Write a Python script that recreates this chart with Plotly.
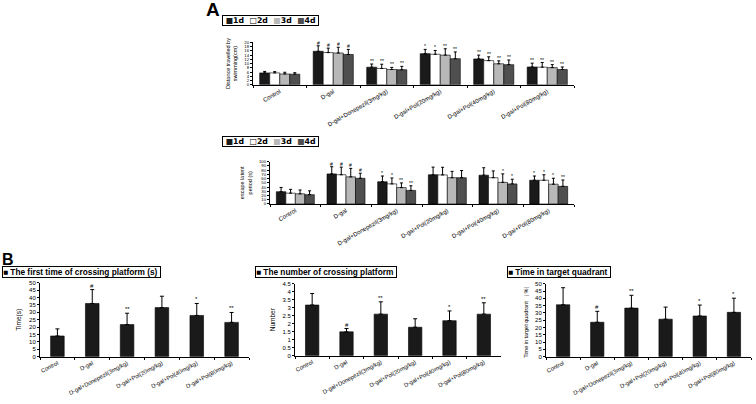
import plotly.graph_objects as go

categories = ["Control", "D-gal", "D-gal+Donepezil(3mg/kg)", "D-gal+Pol(20mg/kg)",
              "D-gal+Pol(40mg/kg)", "D-gal+Pol(80mg/kg)"]
days = ["1d", "2d", "3d", "4d"]

# Panel A (top): Distance travelled by swimming (cm)
dist_1d = [5.6, 15.8, 8.3, 14.7, 12.2, 8.4]
dist_2d = [5.6, 15.2, 7.7, 14.4, 11.4, 8.3]
dist_3d = [5.1, 15.0, 7.2, 14.0, 9.9, 8.1]
dist_4d = [5.0, 14.3, 7.1, 12.3, 9.5, 7.2]
dist_err_1d = [0.7, 2.6, 1.5, 2.0, 1.8, 1.8]
dist_err_2d = [0.6, 2.1, 2.0, 1.8, 1.8, 2.2]
dist_err_3d = [0.8, 2.7, 1.0, 3.0, 1.4, 1.4]
dist_err_4d = [0.7, 2.4, 1.6, 3.2, 2.2, 1.2]
dist_sig_1d = ["", "#", "**", "*", "**", "**"]
dist_sig_2d = ["", "#", "**", "*", "**", "**"]
dist_sig_3d = ["", "#", "**", "**", "**", "**"]
dist_sig_4d = ["", "#", "**", "**", "**", "**"]

# Panel A (bottom): escape latent period (s)
lat_1d = [29, 71, 52.5, 69, 68, 56]
lat_2d = [25.5, 69, 47.4, 68.6, 62, 56]
lat_3d = [24, 64, 38.7, 62, 51, 46.7]
lat_4d = [22, 60.6, 32, 62, 47.4, 41.6]
lat_err_1d = [10, 17, 13.5, 18, 17.5, 10]
lat_err_2d = [9, 18, 14, 18, 16, 13]
lat_err_3d = [9, 20, 11, 15, 20, 14]
lat_err_4d = [9, 12, 11, 17, 11, 15]
lat_sig_1d = ["", "#", "*", "", "", "*"]
lat_sig_2d = ["", "#", "*", "", "", "*"]
lat_sig_3d = ["", "#", "**", "", "*", "*"]
lat_sig_4d = ["", "#", "**", "", "*", "**"]

# Panel B
cross_time = [14, 36, 21.7, 33.2, 27.9, 23.2]
cross_time_err = [4.8, 9.4, 7.7, 7.7, 8.1, 6.7]
cross_time_sig = ["", "#", "**", "", "*", "**"]

cross_num = [3.17, 1.49, 2.6, 1.78, 2.19, 2.6]
cross_num_err = [0.72, 0.21, 0.77, 0.53, 0.61, 0.71]
cross_num_sig = ["", "#", "**", "", "*", "**"]

quad_time = [35.6, 23.6, 33.3, 25.7, 27.9, 30.4]
quad_time_err = [11.7, 7.5, 8.8, 8.3, 7.5, 9.7]
quad_time_sig = ["", "#", "**", "", "*", "*"]

W, H = 756, 404
FONT = "Liberation Sans, Arial, sans-serif"
day_colors = {"1d": "#1a1a1a", "2d": "#ffffff", "3d": "#b8b8b8", "4d": "#4f4f4f"}
BARGAP = 0.25


def px_dom_x(a, b):
    return [a / W, b / W]


def px_dom_y(top, bottom):
    return [1 - bottom / H, 1 - top / H]


# subplot geometry (pixel boxes: left, right, top, bottom)
boxes = {
    "A1": (253, 574, 40, 83),
    "A2": (270, 574, 161, 204),
    "B1": (40, 249, 284, 359),
    "B2": (295, 501, 285, 358),
    "B3": (546, 751, 285, 359),
}
axis_ids = {"A1": ("x", "y"), "A2": ("x2", "y2"), "B1": ("x3", "y3"),
            "B2": ("x4", "y4"), "B3": ("x5", "y5")}

fig = go.Figure()
annotations = []

dist = {"1d": (dist_1d, dist_err_1d, dist_sig_1d), "2d": (dist_2d, dist_err_2d, dist_sig_2d),
        "3d": (dist_3d, dist_err_3d, dist_sig_3d), "4d": (dist_4d, dist_err_4d, dist_sig_4d)}
lat = {"1d": (lat_1d, lat_err_1d, lat_sig_1d), "2d": (lat_2d, lat_err_2d, lat_sig_2d),
       "3d": (lat_3d, lat_err_3d, lat_sig_3d), "4d": (lat_4d, lat_err_4d, lat_sig_4d)}

for key, data in (("A1", dist), ("A2", lat)):
    xa, ya = axis_ids[key]
    x0, x1, _, _ = boxes[key]
    group_px = (x1 - x0) / len(categories)
    bar_px = group_px * (1 - BARGAP) / len(days)
    for j, d in enumerate(days):
        vals, errs, sigs = data[d]
        fig.add_trace(go.Bar(
            x=categories, y=vals, name=d, xaxis=xa, yaxis=ya, showlegend=False,
            marker=dict(color=day_colors[d], line=dict(color="#000000", width=0.6)),
            error_y=dict(type="data", array=errs, arrayminus=[0] * len(errs), symmetric=False,
                         color="#000000", thickness=1, width=1.5),
        ))
        for c, v, e, s in zip(categories, vals, errs, sigs):
            if s:
                annotations.append(dict(
                    x=c, y=v + e, xref=xa, yref=ya, text=s, showarrow=False,
                    yanchor="bottom", xshift=(j - 1.5) * bar_px, yshift=-2,
                    font=dict(size=5, color="#000000", family=FONT)))

for key, vals, errs, sigs in (("B1", cross_time, cross_time_err, cross_time_sig),
                              ("B2", cross_num, cross_num_err, cross_num_sig),
                              ("B3", quad_time, quad_time_err, quad_time_sig)):
    xa, ya = axis_ids[key]
    fig.add_trace(go.Bar(
        x=categories, y=vals, xaxis=xa, yaxis=ya, showlegend=False, width=0.39,
        marker=dict(color="#1a1a1a", line=dict(color="#000000", width=0.6)),
        error_y=dict(type="data", array=errs, arrayminus=[0] * len(errs), symmetric=False,
                     color="#000000", thickness=1, width=2),
    ))
    for c, v, e, s in zip(categories, vals, errs, sigs):
        if s:
            annotations.append(dict(
                x=c, y=v + e, xref=xa, yref=ya, text=s, showarrow=False,
                yanchor="bottom", yshift=-1,
                font=dict(size=6, color="#000000", family=FONT)))

layout = dict(
    width=W, height=H, margin=dict(l=0, r=0, t=0, b=0),
    paper_bgcolor="white", plot_bgcolor="white",
    barmode="group", bargap=BARGAP, bargroupgap=0,
    font=dict(family=FONT, color="#000000"),
    showlegend=False,
)

yconf = {
    "A1": dict(range=[0, 20], dtick=2, title="Distance travelled by<br>swimming(cm)", tfs=5.5, ts=4.3, cs=6, ang=-30),
    "A2": dict(range=[0, 100], dtick=10, title="escape latent<br>period (s)", tfs=5.5, ts=4.3, cs=6, ang=-30),
    "B1": dict(range=[0, 50], dtick=5, title="Time(s)", tfs=6.5, ts=6, cs=5.8, ang=-28),
    "B2": dict(range=[0, 4.5], dtick=0.5, title="Number", tfs=6.5, ts=6, cs=5.8, ang=-28),
    "B3": dict(range=[0, 50], dtick=5, title="Time in target quadrant （%）", tfs=5.5, ts=6, cs=5.8, ang=-28),
}

for i, key in enumerate(["A1", "A2", "B1", "B2", "B3"]):
    xa, ya = axis_ids[key]
    x0, x1, t, b = boxes[key]
    sfx = "" if i == 0 else str(i + 1)
    c = yconf[key]
    layout["xaxis" + sfx] = dict(
        domain=px_dom_x(x0, x1), anchor=ya, type="category",
        categoryorder="array", categoryarray=categories,
        showline=True, linecolor="#000", linewidth=1, showgrid=False,
        ticks="outside", tickson="boundaries", ticklen=2, tickcolor="#000",
        tickangle=c["ang"], tickfont=dict(size=c["cs"], family=FONT, color="#000000"),
        fixedrange=True,
    )
    layout["yaxis" + sfx] = dict(
        domain=px_dom_y(t, b), anchor=xa, range=c["range"], dtick=c["dtick"],
        showline=True, linecolor="#000", linewidth=1, showgrid=False, zeroline=False,
        ticks="outside", ticklen=2, tickcolor="#000",
        tickfont=dict(size=c["ts"], family=FONT, color="#000000"),
        title=dict(text=c["title"], font=dict(size=c["tfs"], family=FONT, color="#000000"), standoff=6),
        fixedrange=True,
    )

# Legend boxes (drawn as bordered text)
NB = "\u00a0"
day_legend = (NB + '<span style="color:#1a1a1a">■</span>1d' + NB * 2 +
              '<span style="color:#000">□</span>2d' + NB * 2 +
              '<span style="color:#b8b8b8">■</span>3d' + NB * 2 +
              '<span style="color:#4f4f4f">■</span>4d' + NB)
legend_boxes = [
    (222, 12, day_legend, 7.8, "DejaVu Sans, sans-serif"),
    (222, 135, day_legend, 7.8, "DejaVu Sans, sans-serif"),
    (2, 267, '■ The first time of crossing platform (s) ', 8.3, FONT),
    (255, 267, '■ The number of crossing platform ', 8.3, FONT),
    (507, 267, '■ Time in target quadrant ', 8.3, FONT),
]
for lx, ly, txt, fs, fam in legend_boxes:
    annotations.append(dict(
        x=lx / W, y=1 - ly / H, xref="paper", yref="paper", xanchor="left", yanchor="top",
        text="<b>" + txt + "</b>", showarrow=False, bordercolor="#000", borderwidth=1,
        borderpad=0, bgcolor="white", font=dict(size=fs, family=fam, color="#000000")))

# Panel letters
annotations.append(dict(x=204 / W, y=1 - 7 / H, xref="paper", yref="paper", xanchor="left", yanchor="middle",
                        text="<b>A</b>", showarrow=False, font=dict(size=19, family=FONT, color="#000000")))
annotations.append(dict(x=0, y=1 - 260 / H, xref="paper", yref="paper", xanchor="left", yanchor="middle",
                        text="<b>B</b>", showarrow=False, font=dict(size=16, family=FONT, color="#000000")))

layout["annotations"] = annotations
fig.update_layout(**layout)
fig.write_html("out.html", config={"displayModeBar": False},
               post_script="document.body.style.margin='0';document.body.style.padding='0';")
